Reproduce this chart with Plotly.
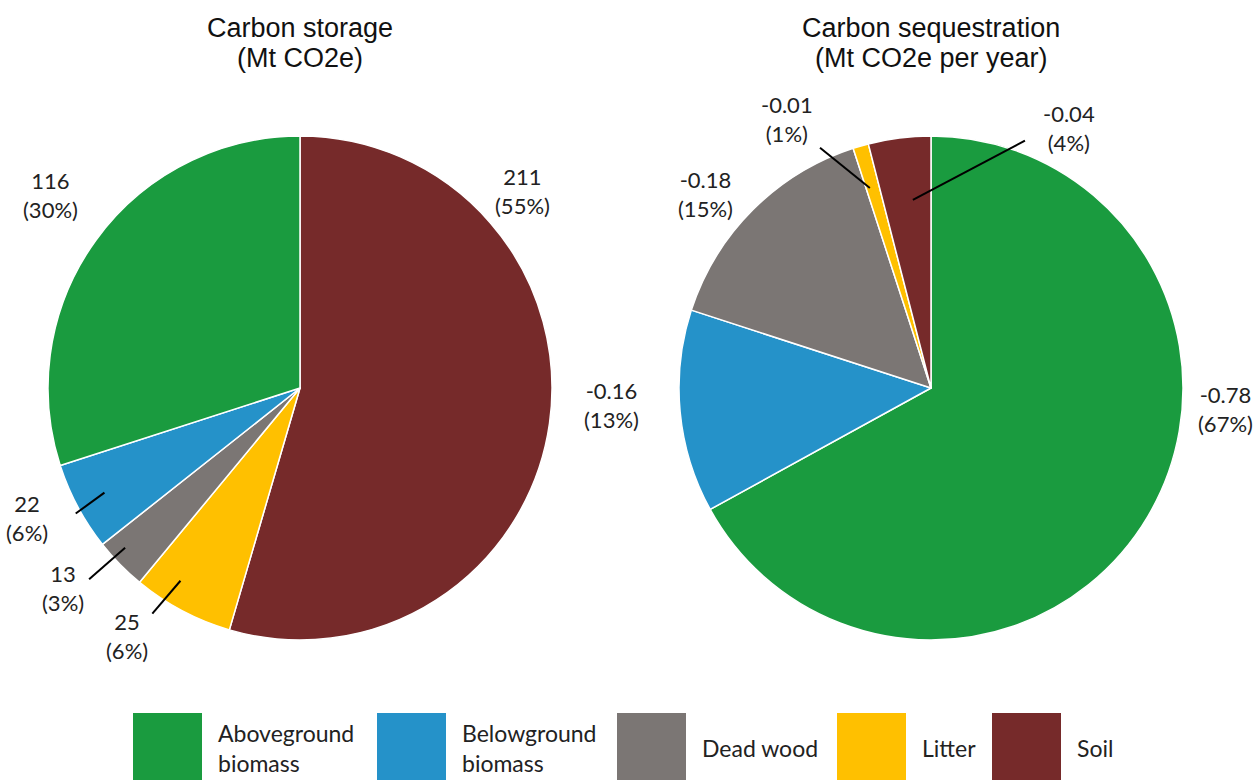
import math
import plotly.graph_objects as go

# ---------------- data ----------------
categories = ["Aboveground biomass", "Belowground biomass", "Dead wood", "Litter", "Soil"]
legend_labels = ["Aboveground<br>biomass", "Belowground<br>biomass", "Dead wood", "Litter", "Soil"]

storage_values = [116, 22, 13, 25, 211]          # Mt CO2e
storage_pct = [30, 6, 3, 6, 55]

seq_values = [-0.78, -0.16, -0.18, -0.01, -0.04]  # Mt CO2e per year
seq_pct = [67, 13, 15, 1, 4]

titles = [("Carbon storage", "(Mt CO2e)"), ("Carbon sequestration", "(Mt CO2e per year)")]

colors = ["#1a9b3f", "#2592c9", "#7b7674", "#ffc000", "#762a2a"]

# ---------------- layout constants ----------------
W, H = 1256, 780
R = 252
LEFT_C = (300, 388)
RIGHT_C = (931, 388)

# label placement per slice: (radius factor, angle offset from slice mid [deg])
left_label_pos = [(1.25, 1.7), (1.20, 2.6), (1.23, 4.2), (1.20, 7.0), (1.18, -49.6)]
left_lines = [None, ((0.88, 0.0), (1.02, -1.1)), ((0.94, 2.0), (1.13, 2.2)),
              ((0.90, 3.9), (1.07, 5.3)), None]
right_label_pos = [(1.17, -26.6), (1.27, 2.4), (1.18, -4.4), (1.21, -12.0), (1.17, 35.2)]
right_lines = [None, None, None, ((0.83, -0.8), (1.05, -8.6)), ((0.75, 1.7), (1.05, 28.0))]

LABEL_FONT = dict(family="Lato, 'Noto Sans', sans-serif", size=22, color="#222222")
TITLE_FONT = dict(family="Arial, 'Liberation Sans', sans-serif", size=27, color="#111111")
LEGEND_FONT = dict(family="Lato, 'Noto Sans', sans-serif", size=23, color="#222222")


def px2paper(x, y):
    return x / W, 1 - y / H


def mid_angles_cw(values):
    """Mid angle of each slice, clockwise from 12 o'clock, slices laid clockwise in order."""
    tot = sum(abs(v) for v in values)
    out, cum = [], 0.0
    for v in values:
        out.append(((cum + abs(v) / 2) / tot * 360) % 360)
        cum += abs(v)
    return out


def polar(center, rfac, ang_deg):
    a = math.radians(ang_deg)
    return center[0] + rfac * R * math.sin(a), center[1] - rfac * R * math.cos(a)


def domain(center):
    x0, y0 = px2paper(center[0] - R, center[1] + R)
    x1, y1 = px2paper(center[0] + R, center[1] - R)
    return dict(x=[x0, x1], y=[y0, y1])


# left pie: slices laid clockwise from 12 o'clock in reversed category order
left_order = list(reversed(range(len(categories))))
right_order = list(range(len(categories)))

fig = go.Figure()
fig.add_trace(go.Pie(
    labels=[categories[i] for i in left_order],
    values=[storage_values[i] for i in left_order],
    sort=False, direction="clockwise", rotation=0,
    domain=domain(LEFT_C), textinfo="none", showlegend=False,
    marker=dict(colors=[colors[i] for i in left_order], line=dict(color="white", width=1.5)),
))
fig.add_trace(go.Pie(
    labels=[categories[i] for i in right_order],
    values=[seq_pct[i] for i in right_order],
    customdata=[seq_values[i] for i in right_order],
    sort=False, direction="clockwise", rotation=0,
    domain=domain(RIGHT_C), textinfo="none", showlegend=False,
    marker=dict(colors=[colors[i] for i in right_order], line=dict(color="white", width=1.5)),
))

annotations = []
shapes = []


def add_labels(center, order, values, texts, pcts, label_pos, lines):
    mids_ordered = mid_angles_cw([values[i] for i in order])
    mids = [0.0] * len(order)
    for k, i in enumerate(order):
        mids[i] = mids_ordered[k]
    for i, m in enumerate(mids):
        rf, da = label_pos[i]
        lx, ly = polar(center, rf, m + da)
        px, py = px2paper(lx, ly)
        annotations.append(dict(
            x=px, y=py, xref="paper", yref="paper", showarrow=False,
            text=f"{texts[i]}<br>({pcts[i]}%)", font=LABEL_FONT,
            xanchor="center", yanchor="middle", align="center"))
        if lines[i] is not None:
            (r0, a0), (r1, a1) = lines[i]
            sx, sy = px2paper(*polar(center, r0, m + a0))
            ex, ey = px2paper(*polar(center, r1, m + a1))
            shapes.append(dict(type="line", xref="paper", yref="paper",
                               x0=sx, y0=sy, x1=ex, y1=ey,
                               line=dict(color="black", width=2)))


add_labels(LEFT_C, left_order, storage_values, [str(v) for v in storage_values],
           storage_pct, left_label_pos, left_lines)
add_labels(RIGHT_C, right_order, seq_pct, [f"{v:.2f}" for v in seq_values],
           seq_pct, right_label_pos, right_lines)

# titles (two lines each, placed separately for tighter line spacing)
for c, (t1, t2) in zip([LEFT_C, RIGHT_C], titles):
    for txt, ypx in [(t1, 28), (t2, 58)]:
        x, y = px2paper(c[0], ypx)
        annotations.append(dict(x=x, y=y, xref="paper", yref="paper", showarrow=False,
                                text=txt, font=TITLE_FONT, xanchor="center",
                                yanchor="middle", align="center"))

# custom legend with large swatches
sw_left = [133, 377, 617, 837, 992]
SW_W = 69
for i, cat in enumerate(categories):
    x0, y0 = px2paper(sw_left[i], 713)
    x1, y1 = px2paper(sw_left[i] + SW_W, 782)
    shapes.append(dict(type="rect", xref="paper", yref="paper", x0=x0, x1=x1, y0=y1, y1=y0,
                       fillcolor=colors[i], line=dict(width=0)))
    tx, ty = px2paper(sw_left[i] + SW_W + 14, 748)
    annotations.append(dict(x=tx, y=ty, xref="paper", yref="paper", showarrow=False,
                            text=legend_labels[i], font=LEGEND_FONT,
                            xanchor="left", yanchor="middle", align="left"))

fig.update_layout(
    width=W, height=H, margin=dict(l=0, r=0, t=0, b=0),
    paper_bgcolor="white", plot_bgcolor="white",
    annotations=annotations, shapes=shapes, showlegend=False,
)

fig.write_html("out.html", config={"displayModeBar": False},
               post_script="document.body.style.margin='0px';")
